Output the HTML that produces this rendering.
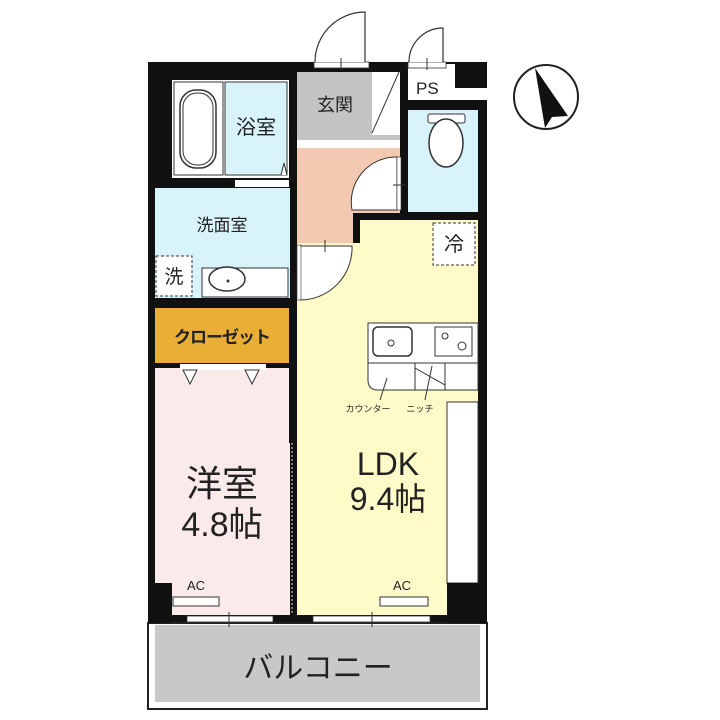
<!DOCTYPE html>
<html><head><meta charset="utf-8"><style>
html,body{margin:0;padding:0;background:#fff;width:720px;height:720px;overflow:hidden}
svg{display:block}
text{font-family:"Liberation Sans","Noto Sans CJK JP",sans-serif;fill:#222}
</style></head><body>
<svg width="720" height="720" viewBox="0 0 720 720" xmlns="http://www.w3.org/2000/svg">
<!-- outer wall mass -->
<rect x="148" y="62" width="339" height="561" fill="#111"/>
<!-- balcony -->
<rect x="148" y="623" width="339" height="86" fill="#fff" stroke="#222" stroke-width="2"/>
<rect x="155" y="625" width="325" height="77" fill="#c8c8c8"/>
<text x="318" y="678" font-size="30" text-anchor="middle">バルコニー</text>

<!-- bathroom -->
<rect x="172" y="80" width="117" height="98" fill="#fff"/>
<rect x="174" y="82" width="49" height="93" fill="#fff" stroke="#333" stroke-width="1"/>
<rect x="180" y="90" width="36" height="78" rx="16" fill="#fff" stroke="#333" stroke-width="1.5"/>
<rect x="183" y="93" width="30" height="72" rx="14" fill="none" stroke="#333" stroke-width="1"/>
<rect x="225" y="82" width="62" height="93" fill="#d9f3fb" stroke="#333" stroke-width="1"/>
<text x="256" y="134" font-size="20" text-anchor="middle">浴室</text>
<rect x="235" y="180" width="54" height="7" fill="#fff"/>
<path d="M281 175 L284 163 L287 175" fill="#fff" stroke="#333" stroke-width="1"/>

<!-- washroom -->
<rect x="155" y="188" width="135" height="110" fill="#d9f3fb"/>
<text x="222" y="231" font-size="17" text-anchor="middle">洗面室</text>
<rect x="156" y="256" width="36" height="40" fill="#fff" stroke="#333" stroke-width="1" stroke-dasharray="3,2"/>
<text x="174" y="283" font-size="19" text-anchor="middle">洗</text>
<rect x="202" y="268" width="86" height="29" fill="#fff" stroke="#333" stroke-width="1"/>
<ellipse cx="227" cy="279" rx="18" ry="12" fill="#fff" stroke="#333" stroke-width="1.5"/>
<circle cx="228" cy="281" r="1.5" fill="#333"/>

<!-- closet -->
<rect x="155" y="308" width="134" height="55" fill="#e9ae35"/>
<text x="222" y="343" font-size="17" font-weight="bold" text-anchor="middle" style="letter-spacing:-1px">クローゼット</text>

<!-- western room -->
<rect x="155" y="368" width="135" height="247" fill="#fbeaea"/>
<rect x="180" y="364" width="86" height="6" fill="#fff"/>
<path d="M183 370 L190 384 L197 370 Z M245 370 L252 384 L259 370 Z" fill="#fff" stroke="#333" stroke-width="1"/>
<rect x="148" y="583" width="24" height="40" fill="#111"/>
<text x="196" y="590" font-size="13" text-anchor="middle">AC</text>
<rect x="173" y="597" width="46" height="9" fill="#fff" stroke="#333" stroke-width="1"/>
<text x="222" y="496" font-size="36" text-anchor="middle">洋室</text>
<text x="222" y="536" font-size="34" text-anchor="middle">4.8帖</text>

<!-- genkan -->
<rect x="297" y="72" width="75" height="68" fill="#c3c3c3"/>
<text x="335" y="111" font-size="18" text-anchor="middle">玄関</text>
<rect x="372" y="72" width="28" height="63" fill="#fff"/>
<line x1="372" y1="133" x2="399" y2="72" stroke="#333" stroke-width="1"/>
<rect x="297" y="135" width="103" height="5" fill="#c3c3c3"/>
<rect x="297" y="140" width="103" height="8" fill="#fff"/>
<!-- entry door -->
<rect x="314" y="62" width="55" height="6" fill="#fff" stroke="#333" stroke-width="0.8"/>
<path d="M315 62 A 50 50 0 0 1 365 12 L365 62" fill="#fff" stroke="#333" stroke-width="1.2"/>
<line x1="341" y1="58" x2="341" y2="70" stroke="#333"/>
<!-- PS -->
<rect x="408" y="64" width="47" height="36" fill="#fff"/>
<text x="416" y="94" font-size="17">PS</text>
<rect x="408" y="62" width="38" height="6" fill="#fff" stroke="#333" stroke-width="0.8"/>
<path d="M409 62 A 34 34 0 0 1 443 28 L443 62" fill="#fff" stroke="#333" stroke-width="1.2"/>
<line x1="427" y1="58" x2="427" y2="70" stroke="#333"/>
<rect x="455" y="88" width="32" height="12" fill="#fff"/>
<!-- toilet -->
<rect x="408" y="110" width="70" height="102" fill="#d9f3fb"/>
<rect x="428" y="114" width="37" height="9" rx="2" fill="#fff" stroke="#333" stroke-width="1"/>
<ellipse cx="446" cy="143" rx="17" ry="24" fill="#fff" stroke="#333" stroke-width="1.5"/>

<!-- hallway -->
<rect x="297" y="148" width="103" height="65" fill="#f4c9b2"/>
<rect x="297" y="148" width="56" height="95" fill="#f4c9b2"/>
<path d="M352 210 A 45 45 0 0 1 397 157 L397 210 Z" fill="#fff" stroke="#333" stroke-width="1"/>
<rect x="397" y="157" width="4" height="53" fill="#fff" stroke="#333" stroke-width="0.6"/>
<line x1="393" y1="185" x2="405" y2="185" stroke="#333"/>

<!-- LDK -->
<rect x="360" y="220" width="118" height="395" fill="#fefbc9"/>
<rect x="297" y="243" width="81" height="372" fill="#fefbc9"/>
<path d="M300 300 A 52 52 0 0 0 352 246 L300 246 Z" fill="#fff" stroke="#333" stroke-width="1"/>
<rect x="297" y="245" width="4" height="55" fill="#fff" stroke="#333" stroke-width="0.6"/>
<line x1="300" y1="246" x2="352" y2="246" stroke="#333" stroke-width="0.6"/>
<line x1="325" y1="240" x2="325" y2="252" stroke="#333"/>
<rect x="433" y="223" width="42" height="42" fill="#fff" stroke="#333" stroke-width="1" stroke-dasharray="3,2"/>
<text x="454" y="251" font-size="20" text-anchor="middle">冷</text>
<!-- kitchen -->
<path d="M368 323 H478 V390 H378 Q368 390 368 380 Z" fill="#fff" stroke="#333" stroke-width="1"/>
<rect x="373" y="327" width="39" height="29" rx="5" fill="#fff" stroke="#333" stroke-width="1.5"/>
<circle cx="391" cy="343" r="3" fill="none" stroke="#333"/>
<rect x="435" y="327" width="37" height="29" fill="#fff" stroke="#333" stroke-width="1"/>
<circle cx="445" cy="336" r="3" fill="none" stroke="#333"/>
<circle cx="462" cy="346" r="4" fill="none" stroke="#333"/>
<line x1="368" y1="363" x2="478" y2="363" stroke="#333"/>
<rect x="415" y="363" width="30" height="27" fill="#fff" stroke="#333" stroke-width="1"/>
<line x1="415" y1="368" x2="445" y2="385" stroke="#333"/>
<line x1="387" y1="378" x2="380" y2="400" stroke="#333"/>
<line x1="432" y1="366" x2="425" y2="400" stroke="#333"/>
<text x="368" y="412" font-size="9" text-anchor="middle">カウンター</text>
<text x="420" y="412" font-size="9" text-anchor="middle">ニッチ</text>
<rect x="447" y="402" width="31" height="181" fill="#fff" stroke="#333" stroke-width="1"/>
<rect x="447" y="583" width="40" height="40" fill="#111"/>
<text x="388" y="475" font-size="32" text-anchor="middle">LDK</text>
<text x="388" y="510" font-size="32" text-anchor="middle">9.4帖</text>
<text x="402" y="590" font-size="13" text-anchor="middle">AC</text>
<rect x="380" y="597" width="48" height="9" fill="#fff" stroke="#333" stroke-width="1"/>
<!-- partition pink/ldk -->
<rect x="289" y="300" width="8" height="143" fill="#111"/>
<line x1="292" y1="443" x2="292" y2="615" stroke="#777" stroke-width="2" stroke-dasharray="2,2"/>
<!-- windows -->
<rect x="187" y="616" width="86" height="6" fill="#fff" stroke="#333" stroke-width="0.8"/>
<line x1="229" y1="612" x2="229" y2="627" stroke="#333"/>
<rect x="313" y="616" width="117" height="6" fill="#fff" stroke="#333" stroke-width="0.8"/>
<line x1="372" y1="612" x2="372" y2="627" stroke="#333"/>

<!-- compass -->
<circle cx="546" cy="97" r="32" fill="#fff" stroke="#222" stroke-width="2"/>
<path d="M535 68 L545 128 L552 117 L568 116 Z" fill="#111"/>
</svg>
</body></html>
